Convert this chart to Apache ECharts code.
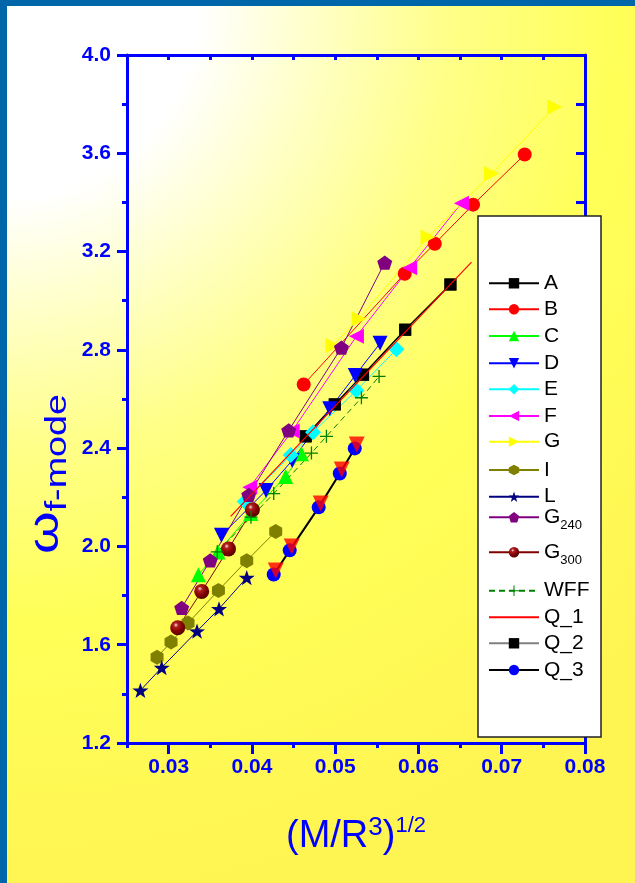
<!DOCTYPE html>
<html><head><meta charset="utf-8">
<script src="https://cdn.jsdelivr.net/npm/echarts@6/dist/echarts.min.js"></script>
<style>
html,body{margin:0;padding:0;width:635px;height:883px;overflow:hidden;}
#chart{position:absolute;left:0;top:0;width:635px;height:883px;
 background:radial-gradient(circle at 0px 0px,#ffffff 0px,#ffffff 200px,#ffffc0 330px,#ffff88 450px,#ffff58 620px,#fff552 900px);}
#bl{position:absolute;left:0;top:0;width:7px;height:883px;background:#0066AA;z-index:5;}
#bt{position:absolute;left:0;top:0;width:635px;height:6px;background:#0066AA;z-index:5;}
</style></head>
<body><div id="chart"></div><div id="bl"></div><div id="bt"></div>
<script>
// ---- data ----
const A_x = [0.04646, 0.04995, 0.05335, 0.05841, 0.06384];
const A_y = [2.448, 2.578, 2.699, 2.882, 3.066];
const B_x = [0.04622, 0.05835, 0.06196, 0.06656, 0.07276];
const B_y = [2.659, 3.110, 3.232, 3.391, 3.595];
const C_x = [0.03358, 0.03593, 0.03986, 0.04406, 0.04595];
const C_y = [1.885, 1.977, 2.134, 2.285, 2.377];
const D_x = [0.03634, 0.04170, 0.04484, 0.04935, 0.05241, 0.05539];
const D_y = [2.045, 2.228, 2.350, 2.560, 2.696, 2.827];
const E_x = [0.03914, 0.04466, 0.04734, 0.05255, 0.05736];
const E_y = [2.183, 2.372, 2.465, 2.635, 2.802];
const F_x = [0.03974, 0.04484, 0.05255, 0.05895, 0.06516];
const F_y = [2.241, 2.470, 2.855, 3.134, 3.397];
const G_x = [0.04974, 0.05287, 0.06115, 0.06877, 0.07637];
const G_y = [2.818, 2.927, 3.259, 3.517, 3.788];
const I_x = [0.02861, 0.03029, 0.03233, 0.03598, 0.03938, 0.04286];
const I_y = [1.549, 1.611, 1.688, 1.821, 1.942, 2.061];
const L_x = [0.02661, 0.02917, 0.03341, 0.03605, 0.03938];
const L_y = [1.414, 1.507, 1.655, 1.746, 1.873];
const G240_x = [0.03157, 0.03500, 0.03962, 0.04442, 0.05075, 0.05595];
const G240_y = [1.750, 1.943, 2.210, 2.472, 2.809, 3.155];
const G300_x = [0.03109, 0.03397, 0.03719, 0.04006];
const G300_y = [1.669, 1.817, 1.990, 2.149];
const WFF_x = [0.03584, 0.03989, 0.04262, 0.04715, 0.04895, 0.05315, 0.05527];
const WFF_y = [1.978, 2.119, 2.215, 2.380, 2.448, 2.605, 2.692];
const Q1_x = [0.03745, 0.06637];
const Q1_y = [2.122, 3.157];
const Q2_x = [0.04646, 0.04995, 0.05335, 0.05841, 0.06384];
const Q2_y = [2.448, 2.578, 2.699, 2.882, 3.066];
const Q3_x = [0.04262, 0.04454, 0.04802, 0.05055, 0.05235];
const Q3_y = [1.886, 1.984, 2.159, 2.297, 2.399];
const Q3t_x = [0.04286, 0.04478, 0.04826, 0.05079, 0.05259];
const Q3t_y = [1.902, 2.000, 2.175, 2.313, 2.415];
const xMajorTicks = [0.03, 0.04, 0.05, 0.06, 0.07, 0.08];
const legendNames = ['A','B','C','D','E','F','G','I','L','G240','G300','WFF','Q_1','Q_2','Q_3'];

// ---- layout/style ----
const legendCenters = [283.3,309.3,336,363.3,389.3,416,441.7,470,496.7,521.7,556.7,590.7,617.3,643.3,670];
const zip = (xs, ys) => xs.map((x, i) => [x, ys[i]]);
const FONT = "'Liberation Sans', Arial, sans-serif";
const BLUE = '#0000FF';
const PENT = 'path://M0,-10 L9.51,-3.09 L5.88,8.09 L-5.88,8.09 L-9.51,-3.09 Z';
const HEX = 'path://M0,-10 L8.66,-5 L8.66,5 L0,10 L-8.66,5 L-8.66,-5 Z';
const STAR = 'path://M0,-10 L2.35,-3.24 L9.51,-3.09 L3.80,1.24 L5.88,8.09 L0,4 L-5.88,8.09 L-3.80,1.24 L-9.51,-3.09 L-2.35,-3.24 Z';
const PLUS = 'path://M-10,-1 L-1,-1 L-1,-10 L1,-10 L1,-1 L10,-1 L10,1 L1,1 L1,10 L-1,10 L-1,1 L-10,1 Z';
const sphere = new echarts.graphic.RadialGradient(0.38, 0.32, 0.75, [
  {offset: 0, color: '#ffe0e0'}, {offset: 0.2, color: '#b02020'}, {offset: 0.6, color: '#800000'}, {offset: 1, color: '#4a0000'}]);

function ser(name, xs, ys, o) {
  return Object.assign({
    name, type: 'line', data: zip(xs, ys), symbolSize: 13, symbolKeepAspect: true,
    lineStyle: {width: 1, color: o.color}, itemStyle: {color: o.color}, z: 3
  }, o.extra || {});
}
const series = [
  ser('Q_2', Q2_x, Q2_y, {color: '#000', extra: {symbol: 'rect', symbolSize: 12, lineStyle: {width: 1, color: '#808080'}, itemStyle: {color: '#000'}}}),
  ser('A', A_x, A_y, {color: '#000', extra: {symbol: 'rect', symbolSize: 12, lineStyle: {width: 1.5, color: '#000'}}}),
  ser('B', B_x, B_y, {color: '#FF0000', extra: {symbol: 'circle', symbolSize: 14}}),
  ser('C', C_x, C_y, {color: '#00FF00', extra: {symbol: 'triangle', symbolSize: 15}}),
  ser('D', D_x, D_y, {color: '#0000FF', extra: {symbol: 'triangle', symbolRotate: 180, symbolSize: 15}}),
  ser('E', E_x, E_y, {color: '#00FFFF', extra: {symbol: 'diamond', symbolSize: 16}}),
  ser('F', F_x, F_y, {color: '#FF00FF', extra: {symbol: 'triangle', symbolRotate: 90, symbolSize: 15}}),
  ser('G', G_x, G_y, {color: '#FFFF00', extra: {symbol: 'triangle', symbolRotate: -90, symbolSize: 15}}),
  ser('I', I_x, I_y, {color: '#808000', extra: {symbol: HEX, symbolSize: 15}}),
  ser('L', L_x, L_y, {color: '#000080', extra: {symbol: STAR, symbolSize: 16}}),
  ser('G240', G240_x, G240_y, {color: '#800080', extra: {symbol: PENT, symbolSize: 15}}),
  ser('G300', G300_x, G300_y, {color: '#800000', extra: {symbol: 'circle', symbolSize: 15, itemStyle: {color: sphere}}}),
  ser('WFF', WFF_x, WFF_y, {color: '#008000', extra: {symbol: PLUS, symbolSize: 13, lineStyle: {width: 1, color: '#008000', type: [6, 4]}}}),
  ser('Q_1', Q1_x, Q1_y, {color: '#FF0000', extra: {symbol: 'none', lineStyle: {width: 1.2, color: '#FF0000'}, z: 4}}),
  ser('Q_3', Q3_x, Q3_y, {color: '#0000FF', extra: {symbol: 'circle', symbolSize: 14, lineStyle: {width: 2, color: '#000'}, z: 5}}),
  {name: 'Q_3 (overlay)', type: 'scatter', data: zip(Q3t_x, Q3t_y), symbol: 'triangle', symbolRotate: 180,
   symbolSize: 16, itemStyle: {color: '#FF0000'}, z: 6}
];

const legends = legendNames.map((n, i) => {
  const sub = (n === 'G240' || n === 'G300');
  const rowH = sub ? 30 : 21;
  const item = (n === 'Q_1') ? {name: n, itemStyle: {opacity: 0, color: 'rgba(0,0,0,0)', borderWidth: 0}} : n;
  return {
    data: [item], left: 488, top: legendCenters[i] - rowH / 2, orient: 'vertical', padding: 0,
    itemWidth: 50, itemHeight: 13, itemGap: 0, selectedMode: false, z: 100,
    formatter: sub ? ('{a|G}{s|' + n.slice(1) + '}') : '{name}',
    textStyle: {fontFamily: FONT, fontSize: 21, color: '#000',
      rich: {a: {fontFamily: FONT, fontSize: 21, lineHeight: 30, color: '#000'},
             s: {fontFamily: FONT, fontSize: 13, lineHeight: 10, verticalAlign: 'bottom', color: '#000'}}}
  };
});

const axLine = {show: true, lineStyle: {color: BLUE, width: 3}};
const option = {
  animation: false,
  backgroundColor: 'transparent',
  grid: {left: 127, top: 55, width: 458, height: 688, containLabel: false},
  xAxis: [
    {type: 'value', position: 'bottom', min: 0.025, max: 0.08, interval: 0.005,
     axisLine: axLine, axisTick: {show: true, length: 5, lineStyle: {color: BLUE, width: 3}},
     axisLabel: {show: false}, splitLine: {show: false}},
    {type: 'value', position: 'bottom', min: 0.025, max: 0.08,
     axisLine: {show: false},
     axisTick: {show: true, length: 11, customValues: xMajorTicks, lineStyle: {color: BLUE, width: 3}},
     axisLabel: {show: true, customValues: xMajorTicks, margin: 14, formatter: v => v.toFixed(2),
       color: BLUE, fontFamily: FONT, fontWeight: 'bold', fontSize: 21},
     splitLine: {show: false}},
    {type: 'value', position: 'top', min: 0.025, max: 0.08, interval: 0.005,
     axisLine: axLine, axisTick: {show: true, inside: true, length: 5, lineStyle: {color: BLUE, width: 3}},
     axisLabel: {show: false}, splitLine: {show: false}}
  ],
  yAxis: [
    {type: 'value', position: 'left', min: 1.2, max: 4.0, interval: 0.4,
     axisLine: axLine, axisTick: {show: true, length: 10, lineStyle: {color: BLUE, width: 3}},
     minorTick: {show: true, splitNumber: 2, length: 5, lineStyle: {color: BLUE, width: 3}},
     axisLabel: {margin: 16, formatter: v => v.toFixed(1), color: BLUE, fontFamily: FONT, fontWeight: 'bold', fontSize: 21},
     splitLine: {show: false}, minorSplitLine: {show: false}},
    {type: 'value', position: 'right', min: 1.2, max: 4.0, interval: 0.2,
     axisLine: axLine, axisTick: {show: true, inside: true, length: 9, lineStyle: {color: BLUE, width: 3}},
     axisLabel: {show: false}, splitLine: {show: false}}
  ],
  legend: legends,
  graphic: [
    {type: 'rect', shape: {x: 478, y: 216, width: 123, height: 521}, style: {fill: '#fff', stroke: '#222', lineWidth: 1.5}, z: 50},
    {type: 'text', x: 46, y: 474, rotation: Math.PI / 2, scaleX: 1.3, z: 60,
     style: {text: '{w|ω}{s|f-mode}', align: 'center', verticalAlign: 'middle', fill: BLUE,
       rich: {w: {fontFamily: FONT, fontSize: 42, lineHeight: 52, fill: BLUE, color: BLUE},
              s: {fontFamily: FONT, fontSize: 29, lineHeight: 8, verticalAlign: 'bottom', fill: BLUE, color: BLUE}}}},
    {type: 'text', x: 356, y: 837, z: 60,
     style: {text: '{a|(M/R}{p|3}{a|)}{q|1/2}', align: 'center', verticalAlign: 'middle', fill: BLUE,
       rich: {a: {fontFamily: FONT, fontSize: 38, lineHeight: 44, fill: BLUE, color: BLUE},
              p: {fontFamily: FONT, fontSize: 26, lineHeight: 30, verticalAlign: 'top', fill: BLUE, color: BLUE},
              q: {fontFamily: FONT, fontSize: 22, lineHeight: 20, verticalAlign: 'top', fill: BLUE, color: BLUE}}}}
  ],
  series: series
};
const chart = echarts.init(document.getElementById('chart'), null, {renderer: 'canvas'});
chart.setOption(option);
</script></body></html>
